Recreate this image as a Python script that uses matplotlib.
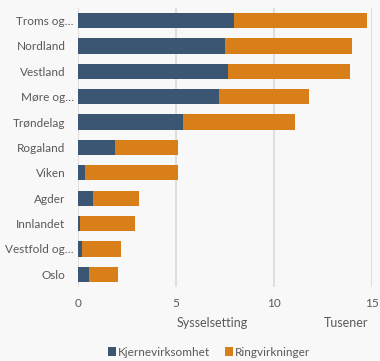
import numpy as np
import matplotlib.pyplot as plt
from matplotlib.transforms import ScaledTranslation

plt.rcParams['font.family'] = ['Lato', 'DejaVu Sans']

regions = ['Troms og…', 'Nordland', 'Vestland', 'Møre og…', 'Trøndelag', 'Rogaland',
           'Viken', 'Agder', 'Innlandet', 'Vestfold og…', 'Oslo']
kjerne = [7.97, 7.52, 7.65, 7.21, 5.36, 1.89, 0.37, 0.77, 0.09, 0.20, 0.56]
ring = [6.77, 6.46, 6.23, 4.58, 5.69, 3.23, 4.72, 2.34, 2.82, 1.98, 1.48]
xticks = [0, 5, 10, 15]

bg = '#f9f8f9'
blue = '#3b5673'
orange = '#d97f19'
text_col = '#595959'

fig = plt.figure(figsize=(3.8, 3.61), dpi=100, facecolor=bg)
ax = fig.add_axes([0.205, 0.205, 0.774, 0.773], facecolor=bg)

y = np.arange(len(regions))
ax.barh(y, kjerne, height=0.6, color=blue, label='Kjernevirksomhet', zorder=3)
ax.barh(y, ring, left=kjerne, height=0.6, color=orange, label='Ringvirkninger', zorder=3)

ax.set_ylim(len(regions) - 0.5, -0.5)
ax.set_xlim(0, 15)
ax.set_xticks(xticks)
ax.set_yticks(y)
ax.set_yticklabels(regions)
ax.grid(axis='x', color='#d9d9d9', linewidth=1.2, zorder=0)
for s in ax.spines.values():
    s.set_visible(False)
ax.tick_params(axis='both', length=0, colors=text_col, labelsize=8.5)
ax.tick_params(axis='y', pad=9)
ax.tick_params(axis='x', pad=8)

# truncated names stick out a bit further to the right
for lbl in ax.get_yticklabels():
    if lbl.get_text().endswith('…'):
        lbl.set_transform(lbl.get_transform() + ScaledTranslation(6 / 72, 0, fig.dpi_scale_trans))

fig.text(212 / 380, 1 - 323 / 361, 'Sysselsetting', ha='center', va='center',
         fontsize=9, color=text_col)
fig.text(346 / 380, 1 - 323 / 361, 'Tusener', ha='center', va='center',
         fontsize=9, color=text_col)

fig.legend(loc='center', bbox_to_anchor=(0.55, 1 - 352 / 361), ncol=2, frameon=False,
           fontsize=8.5, labelcolor=text_col, handlelength=0.7, handleheight=0.7,
           handletextpad=0.2, columnspacing=1.2)

fig.savefig('out.png', dpi=100, facecolor=bg)
